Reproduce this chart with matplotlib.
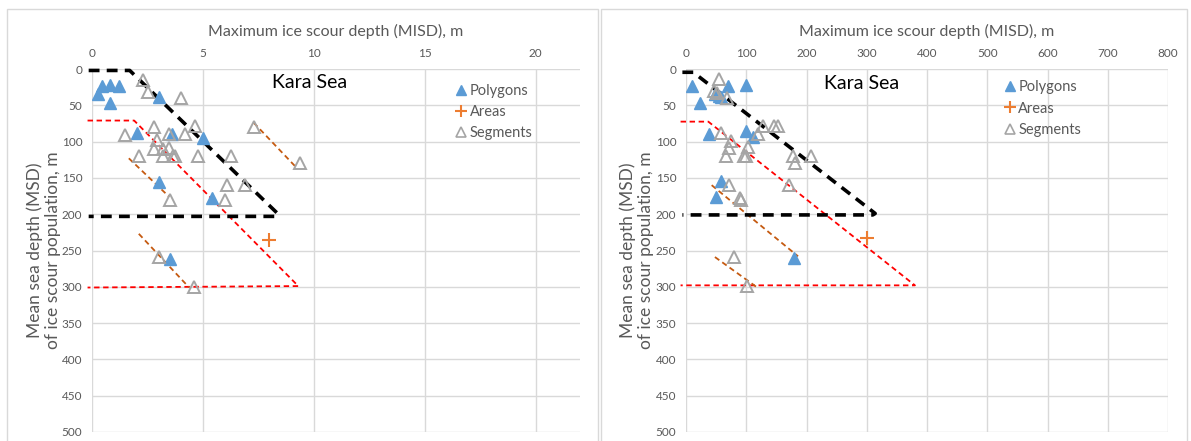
import matplotlib
matplotlib.use("Agg")
import matplotlib.pyplot as plt
from matplotlib.lines import Line2D
from matplotlib.patches import Rectangle

plt.rcParams['font.family'] = ['Lato', 'DejaVu Sans']

# ---- left panel data (MISD in m vs MSD in m) ----
L_poly_x = [0.25, 0.45, 0.82, 1.21, 0.82, 3.0, 2.02, 3.59, 5.0, 3.03, 5.4, 3.53]
L_poly_y = [35, 23, 22, 23, 47, 38, 88, 89, 95, 155, 177, 262]
L_seg_x = [2.29, 2.53, 4.02, 1.51, 2.81, 3.48, 4.19, 4.63, 2.91, 2.78, 3.21, 3.48,
           3.21, 3.63, 3.75, 2.11, 4.78, 6.28, 7.29, 9.39, 6.1, 6.92, 5.98, 3.51, 3.0, 4.6]
L_seg_y = [15, 31, 40, 91, 80, 89, 89, 79, 98, 110, 110, 109,
           120, 120, 120, 120, 120, 120, 80, 130, 160, 160, 180, 180, 259, 300]
L_area_x = [7.97]
L_area_y = [235]

L_black_x = [-0.15, 1.7, 8.4, 8.3, -0.15]
L_black_y = [2, 2, 200, 203, 203]
L_red_x = [-0.2, 1.9, 9.3, -0.2]
L_red_y = [71, 71, 299, 301]
L_orange = [([7.29, 9.19], [74, 135]), ([1.66, 3.48], [123, 176]), ([2.11, 4.38], [227, 301])]

# ---- right panel data ----
R_poly_x = [9.4, 70, 99.6, 24, 48, 54, 57.5, 39, 100, 111, 58, 50, 179]
R_poly_y = [23, 23, 22, 47, 34, 37, 38, 89, 86, 94, 154, 176, 261]
R_seg_x = [55, 47, 51, 67.5, 58, 75, 71, 66, 103.5, 99.6, 96, 119, 128, 146, 153,
           178, 181, 207, 171, 72, 90, 92, 80, 102]
R_seg_y = [14, 30, 33, 39.5, 88, 99, 109, 120, 107, 120, 120, 89, 79, 79, 79,
           120, 130, 120, 160, 160, 178, 180, 259, 299]
R_area_x = [300]
R_area_y = [233]

R_black_x = [-6, 12, 314, 310, -6]
R_black_y = [4.5, 4.5, 199, 201, 201]
R_red_x = [-9, 37, 380, -9]
R_red_y = [72.5, 72.5, 298, 298]
R_orange = [([42.6, 186], [160, 258]), ([48, 120], [259, 302])]

x_title = 'Maximum ice scour depth (MISD), m'
y_title = 'Mean sea depth (MSD)\nof ice scour population, m'

BLUE = '#5B9BD5'
ORANGE = '#ED7D31'
GREY = '#A5A5A5'
TXT = '#595959'
GRID = '#D9D9D9'

W, H = 1191, 441
fig = plt.figure(figsize=(W / 100, H / 100), dpi=100)

# panel frames
for x0, x1 in [(7, 598), (601, 1187)]:
    fig.patches.append(Rectangle((x0 / W, -0.1), (x1 - x0) / W, (H - 9) / H + 0.1,
                                 transform=fig.transFigure, fill=False,
                                 edgecolor=GRID, lw=1))


def panel(left_px, right_px, xmax, xticks, poly, seg, area, black, red, orange,
          kara_xy, leg_anchor, ylab_px):
    aw = right_px - left_px
    ax = fig.add_axes([left_px / W, 1 - 432 / H, aw / W, (432 - 69) / H])
    ax.set_xlim(0, xmax)
    ax.set_ylim(500, 0)
    ax.xaxis.tick_top()
    ax.xaxis.set_label_position('top')
    ax.set_xticks(xticks)
    ax.set_yticks(range(0, 501, 50))
    ax.tick_params(length=0, labelsize=8.5, labelcolor=TXT, pad=7)
    ax.grid(True, color=GRID, lw=1)
    ax.set_axisbelow(True)
    for s in ax.spines.values():
        s.set_visible(False)
    ax.set_xlabel(x_title, fontsize=11.5, color=TXT, labelpad=9)
    ax.set_ylabel(y_title, fontsize=12.5, color=TXT, linespacing=1.15)
    ax.yaxis.label.set_va('center')
    ax.yaxis.set_label_coords((ylab_px - left_px) / aw, 0.5)

    ax.plot(*red, ls=(0, (3, 2)), color='#FF0000', lw=1.3, clip_on=False)
    for xs, ys in orange:
        ax.plot(xs, ys, ls=(0, (3, 2)), color='#C55A11', lw=1.3)
    ax.plot(*black, ls=(0, (3, 2)), color='black', lw=2.6, clip_on=False)

    ax.plot(*poly, ls='none', marker='^', ms=9, color=BLUE, label='Polygons')
    ax.plot(*area, ls='none', marker='+', ms=10, mew=1.5, color=ORANGE, label='Areas')
    ax.plot(*seg, ls='none', marker='^', ms=9, mfc='none', mec=GREY, mew=1.4,
            label='Segments')

    ax.text(*kara_xy, 'Kara Sea', fontsize=14, ha='center', va='center', color='black')

    handles = [Line2D([], [], ls='none', marker='^', ms=7, color=BLUE),
               Line2D([], [], ls='none', marker='+', ms=8, mew=1.5, color=ORANGE),
               Line2D([], [], ls='none', marker='^', ms=7, mfc='none', mec=GREY, mew=1.2)]
    leg = ax.legend(handles, ['Polygons', 'Areas', 'Segments'], loc='upper left',
                    bbox_to_anchor=leg_anchor, frameon=False, fontsize=10.5,
                    handlelength=0.6, handletextpad=0.3, labelspacing=0.5,
                    borderaxespad=0)
    for t in leg.get_texts():
        t.set_color(TXT)
    return ax


panel(92, 580, 22, [0, 5, 10, 15, 20], (L_poly_x, L_poly_y), (L_seg_x, L_seg_y),
      (L_area_x, L_area_y), (L_black_x, L_black_y), (L_red_x, L_red_y), L_orange,
      (9.8, 19), (0.735, 0.975), 44)
panel(686, 1168, 800, range(0, 801, 100), (R_poly_x, R_poly_y), (R_seg_x, R_seg_y),
      (R_area_x, R_area_y), (R_black_x, R_black_y), (R_red_x, R_red_y), R_orange,
      (292, 20), (0.65, 0.985), 637)

fig.savefig('out.png', dpi=100)
